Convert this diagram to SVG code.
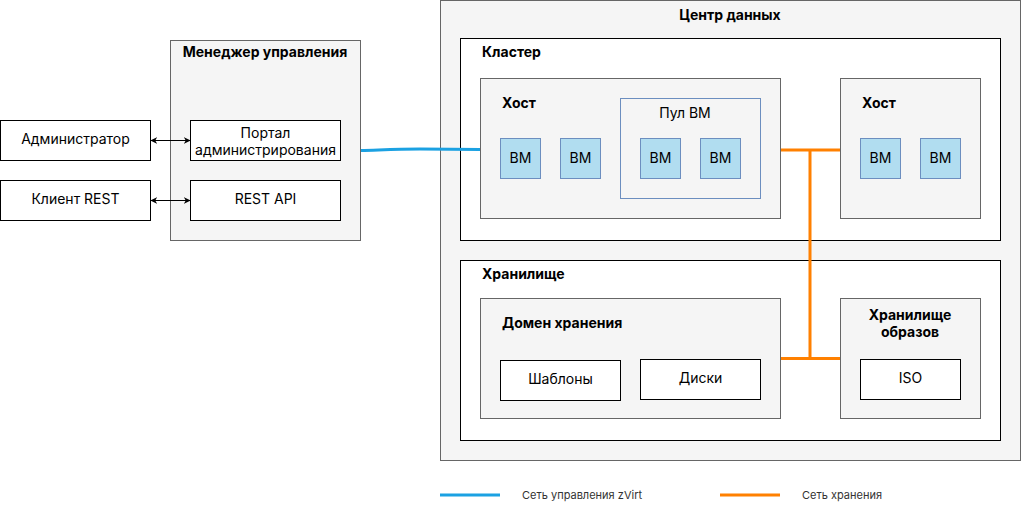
<svg xmlns="http://www.w3.org/2000/svg" width="1022" height="512" viewBox="0 0 1022 512">
<style>
text{font-family:Inter,"Noto Sans","Liberation Sans",sans-serif;font-size:14px;fill:#000}
.b{font-weight:bold}
.c{text-anchor:middle}
.grey{fill:#f5f5f5;stroke:#666;stroke-width:1}
.wh{fill:#fff;stroke:#000;stroke-width:1}
.vm{fill:#b1ddf0;stroke:#6c8ebf;stroke-width:1}
.pool{fill:#f5f5f5;stroke:#6c8ebf;stroke-width:1}
.blue{stroke:#1ba1e2;stroke-width:3;fill:none}
.orange{stroke:#ff8000;stroke-width:3;fill:none}
.arr{stroke:#000;stroke-width:1;fill:none;marker-start:url(#ah);marker-end:url(#ah)}
.lg{font-size:11px;fill:#333}
</style>
<defs>
<marker id="ah" viewBox="0 0 10 10" refX="9" refY="5" markerWidth="7" markerHeight="7" orient="auto-start-reverse" markerUnits="userSpaceOnUse">
<path d="M0,0 L10,5 L0,10 L3,5 Z" fill="#000"/>
</marker>
</defs>
<g id="dc">
<rect class="grey" x="440.5" y="0.5" width="580" height="460"/>
<text class="b c" x="730" y="20">Центр данных</text>
</g>
<g id="cluster">
<rect class="wh" x="460.5" y="38.5" width="540" height="202"/>
<text class="b" x="482" y="57">Кластер</text>
</g>
<g id="host1">
<rect class="grey" x="480.5" y="78.5" width="300" height="140"/>
<text class="b" x="502" y="108">Хост</text>
</g>
<g id="vm1"><rect class="vm" x="500.5" y="138.5" width="40" height="40"/><text class="c" x="520.5" y="163">ВМ</text></g>
<g id="vm2"><rect class="vm" x="560.5" y="138.5" width="40" height="40"/><text class="c" x="580.5" y="163">ВМ</text></g>
<g id="pool">
<rect class="pool" x="620.5" y="98.5" width="140" height="100"/>
<text class="c" x="685" y="118">Пул ВМ</text>
</g>
<g id="vm3"><rect class="vm" x="640.5" y="138.5" width="40" height="40"/><text class="c" x="660.5" y="163">ВМ</text></g>
<g id="vm4"><rect class="vm" x="700.5" y="138.5" width="40" height="40"/><text class="c" x="720.5" y="163">ВМ</text></g>
<g id="host2">
<rect class="grey" x="840.5" y="78.5" width="140" height="140"/>
<text class="b" x="862" y="108">Хост</text>
</g>
<g id="vm5"><rect class="vm" x="860.5" y="138.5" width="40" height="40"/><text class="c" x="880.5" y="163">ВМ</text></g>
<g id="vm6"><rect class="vm" x="920.5" y="138.5" width="40" height="40"/><text class="c" x="940.5" y="163">ВМ</text></g>
<g id="storage">
<rect class="wh" x="460.5" y="260.5" width="540" height="180"/>
<text class="b" x="482" y="279">Хранилище</text>
</g>
<g id="domain">
<rect class="grey" x="480.5" y="298.5" width="300" height="120"/>
<text class="b" x="502" y="328">Домен хранения</text>
</g>
<g id="templates"><rect class="wh" x="500.5" y="360.5" width="120" height="40"/><text class="c" x="560.5" y="384">Шаблоны</text></g>
<g id="disks"><rect class="wh" x="640.5" y="359.5" width="120" height="40"/><text class="c" x="700.5" y="383">Диски</text></g>
<g id="imgstore">
<rect class="grey" x="840.5" y="298.5" width="140" height="120"/>
<text class="b c" x="910" y="320">Хранилище</text>
<text class="b c" x="910" y="337">образов</text>
</g>
<g id="iso"><rect class="wh" x="860.5" y="359.5" width="100" height="40"/><text class="c" x="910.5" y="383">ISO</text></g>
<g id="mgr">
<rect class="grey" x="170.5" y="40.5" width="190" height="200"/>
<text class="b c" x="265" y="57">Менеджер управления</text>
</g>
<g id="portal"><rect class="wh" x="190.5" y="120.5" width="150" height="40"/><text class="c" x="265.5" y="138">Портал</text><text class="c" x="265.5" y="155">администрирования</text></g>
<g id="restapi"><rect class="wh" x="190.5" y="180.5" width="150" height="40"/><text class="c" x="265.5" y="204">REST API</text></g>
<g id="admin"><rect class="wh" x="0.5" y="120.5" width="150" height="40"/><text class="c" x="75.5" y="144">Администратор</text></g>
<g id="client"><rect class="wh" x="0.5" y="180.5" width="150" height="40"/><text class="c" x="75.5" y="204">Клиент REST</text></g>
<g id="connectors">
<line class="arr" x1="151" y1="140.5" x2="190" y2="140.5"/>
<line class="arr" x1="151" y1="200.5" x2="190" y2="200.5"/>
<path class="blue" d="M361,150.5 C380,150 395,149 420,149 L480,149.5"/>
<path class="orange" d="M781,150 L840,150 M810,150 L810,358.5 M781,358.5 L840,358.5"/>
</g>
<g id="legend">
<line class="blue" x1="440" y1="495" x2="500" y2="495"/>
<text class="lg" x="522" y="499">Сеть управления zVirt</text>
<line class="orange" x1="720" y1="495" x2="780" y2="495"/>
<text class="lg" x="802" y="499">Сеть хранения</text>
</g>
</svg>
